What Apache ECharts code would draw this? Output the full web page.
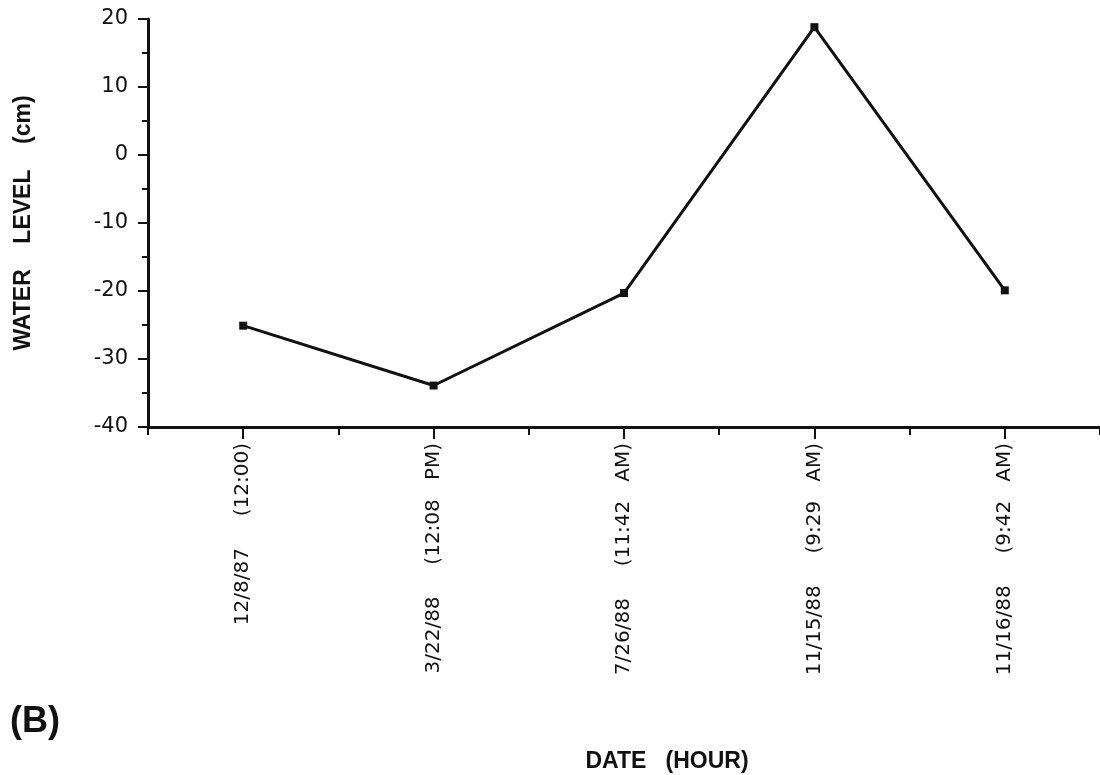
<!DOCTYPE html>
<html>
<head>
<meta charset="utf-8">
<script src="https://cdn.jsdelivr.net/npm/echarts@6/dist/echarts.min.js"></script>
<style>
  html, body { margin: 0; padding: 0; background: #fff; }
  #chart { width: 1100px; height: 775px; }
</style>
</head>
<body>
<div id="chart"></div>
<script>
// water level by survey date
const dates = [
  "12/8/87     (12:00)",
  "3/22/88     (12:08   PM)",
  "7/26/88     (11:42   AM)",
  "11/15/88     (9:29   AM)",
  "11/16/88     (9:42   AM)"
];
const waterLevel = [-25.1, -33.9, -20.3, 18.8, -19.9];
const yMin = -40;
const yMax = 20;
const yStep = 10;

const ink = "#111";

let myChart = echarts.init(document.getElementById("chart"));
myChart.setOption({
  backgroundColor: "#fff",
  animation: false,
  grid: {
    left: 148,
    top: 19,
    width: 955,
    bottom: 348,
    containLabel: false,
  },
  xAxis: [
    {
      type: "category",
      data: dates,
      boundaryGap: true,
      axisLine: {
        show: true,
        onZero: false,
        lineStyle: { color: ink, width: 3 },
      },
      axisTick: {
        show: true,
        alignWithLabel: true,
        length: 12,
        lineStyle: { color: ink, width: 2 },
      },
      axisLabel: {
        interval: 0,
        rotate: 90,
        margin: 16,
        color: ink,
        fontFamily: "DejaVu Sans",
        fontSize: 20,
      },
    },
    {
      // short ticks between the dates
      type: "category",
      data: dates,
      position: "bottom",
      boundaryGap: true,
      axisLine: { show: false, onZero: false },
      axisTick: {
        show: true,
        length: 8,
        lineStyle: { color: ink, width: 2 },
      },
      axisLabel: { show: false },
    },
  ],
  yAxis: {
    type: "value",
    min: yMin,
    max: yMax,
    interval: yStep,
    name: "WATER    LEVEL    (cm)",
    nameLocation: "middle",
    nameGap: 113,
    nameTextStyle: {
      color: ink,
      fontFamily: "Liberation Sans",
      fontWeight: "bold",
      fontSize: 23,
    },
    axisLine: {
      show: true,
      lineStyle: { color: ink, width: 3 },
    },
    axisTick: {
      show: true,
      length: 10,
      lineStyle: { color: ink, width: 2 },
    },
    minorTick: {
      show: true,
      splitNumber: 2,
      length: 6,
      lineStyle: { color: ink, width: 2 },
    },
    splitLine: { show: false },
    axisLabel: {
      margin: 20,
      color: ink,
      fontFamily: "DejaVu Sans",
      fontSize: 21,
    },
  },
  series: [
    {
      type: "line",
      xAxisIndex: 0,
      data: waterLevel,
      symbol: "rect",
      symbolSize: 8,
      lineStyle: { color: ink, width: 3 },
      itemStyle: { color: ink },
    },
  ],
  graphic: [
    {
      type: "text",
      left: 10,
      top: 704,
      style: {
        text: "(B)",
        fill: ink,
        font: "bold 36px 'Liberation Sans'",
      },
    },
    {
      type: "text",
      x: 667,
      y: 762,
      style: {
        text: "DATE   (HOUR)",
        fill: ink,
        font: "bold 23px 'Liberation Sans'",
        align: "center",
        verticalAlign: "middle",
      },
    },
  ],
});
</script>
</body>
</html>
